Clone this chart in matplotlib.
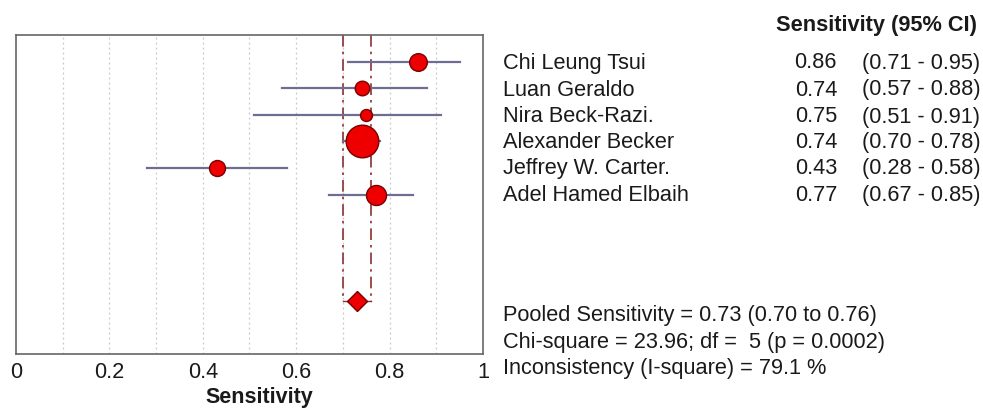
import matplotlib
matplotlib.use("Agg")
import matplotlib.pyplot as plt

plt.rcParams['font.family'] = ['Liberation Sans', 'DejaVu Sans']

studies = ["Chi Leung Tsui", "Luan Geraldo", "Nira Beck-Razi.", "Alexander Becker",
           "Jeffrey W. Carter.", "Adel Hamed Elbaih"]
sens = [0.86, 0.74, 0.75, 0.74, 0.43, 0.77]
ci_low = [0.71, 0.57, 0.51, 0.70, 0.28, 0.67]
ci_high = [0.95, 0.88, 0.91, 0.78, 0.58, 0.85]
weights = [12.7, 10.5, 8.6, 23.5, 11.5, 14.4]  # marker sizes (study weight)
pooled = 0.73
pooled_low = 0.70
pooled_high = 0.76
chi_sq = 23.96
df = 5
p_val = 0.0002
i_sq = 79.1
xticks = [0, 0.2, 0.4, 0.6, 0.8, 1]
xtick_labels = ["0", "0.2", "0.4", "0.6", "0.8", "1"]

W, H = 983, 410
FS = 15.7
TXT = "#1a1a1a"
fig = plt.figure(figsize=(W / 100, H / 100), dpi=100)
ax = fig.add_axes([16 / W, 1 - 355 / H, (483 - 16) / W, (355 - 36) / H])

rows = list(range(1, len(studies) + 1))
pooled_row = 10

for i in range(0, 11):
    v = i / 10
    if 0 < v < 1:
        ax.axvline(v, color="#c8c8c8", lw=0.9, ls=(0, (1.5, 2.5)), zorder=0)

for lim in (pooled_low, pooled_high):
    ax.plot([lim, lim], [0, pooled_row], color="#8b3030", lw=1.2,
            ls=(0, (7, 3, 1.5, 3)), zorder=1)
ax.plot([pooled_low, pooled_high], [pooled_row, pooled_row], color="#8b3030", lw=1.0, zorder=1)

for r, s, lo, hi, w in zip(rows, sens, ci_low, ci_high, weights):
    ax.plot([lo, hi], [r, r], color="#6e6e92", lw=1.6, zorder=2)
    ax.plot([s], [r], "o", ms=w, mfc="#ee0000", mec="#7a0000", mew=1.0, zorder=3)

ax.plot([pooled], [pooled_row], "D", ms=10, mfc="#ee0000", mec="#7a0000", mew=1.0, zorder=3)

ax.set_xlim(0, 1)
ax.set_ylim(12, 0)
ax.set_yticks([])
ax.set_xticks(xticks)
ax.set_xticklabels(xtick_labels, fontsize=FS)
ax.tick_params(axis="x", length=0, pad=5, colors=TXT)
for sp in ax.spines.values():
    sp.set_color("#666666")
    sp.set_linewidth(1.2)
ax.set_xlabel("Sensitivity", fontsize=15.5, fontweight="bold", color=TXT)
ax.xaxis.set_label_coords(0.52, -0.10, transform=ax.transAxes)
ax.xaxis.label.set_verticalalignment("top")


def fx(px):
    return px / W


def fy(py):
    return 1 - py / H


fig.text(fx(977), fy(25), "Sensitivity (95% CI)", fontsize=FS, fontweight="bold",
         ha="right", va="center", color=TXT)
row_y = [63, 90, 117, 143, 169, 196]
for y, name, s, lo, hi in zip(row_y, studies, sens, ci_low, ci_high):
    fig.text(fx(503), fy(y), name, fontsize=FS, ha="left", va="center", color=TXT)
    fig.text(fx(837), fy(y), f"{s:.2f}", fontsize=FS, ha="right", va="center", color=TXT)
    fig.text(fx(862), fy(y), f"({lo:.2f} - {hi:.2f})", fontsize=FS, ha="left", va="center",
             color=TXT)

stats = [
    f"Pooled Sensitivity = {pooled:.2f} ({pooled_low:.2f} to {pooled_high:.2f})",
    f"Chi-square = {chi_sq:.2f}; df =  {df} (p = {p_val:.4f})",
    f"Inconsistency (I-square) = {i_sq:.1f} %",
]
for y, t in zip([316, 343, 369], stats):
    fig.text(fx(503), fy(y), t, fontsize=FS, ha="left", va="center", color=TXT)

fig.savefig("out.png", dpi=100, facecolor="white")
